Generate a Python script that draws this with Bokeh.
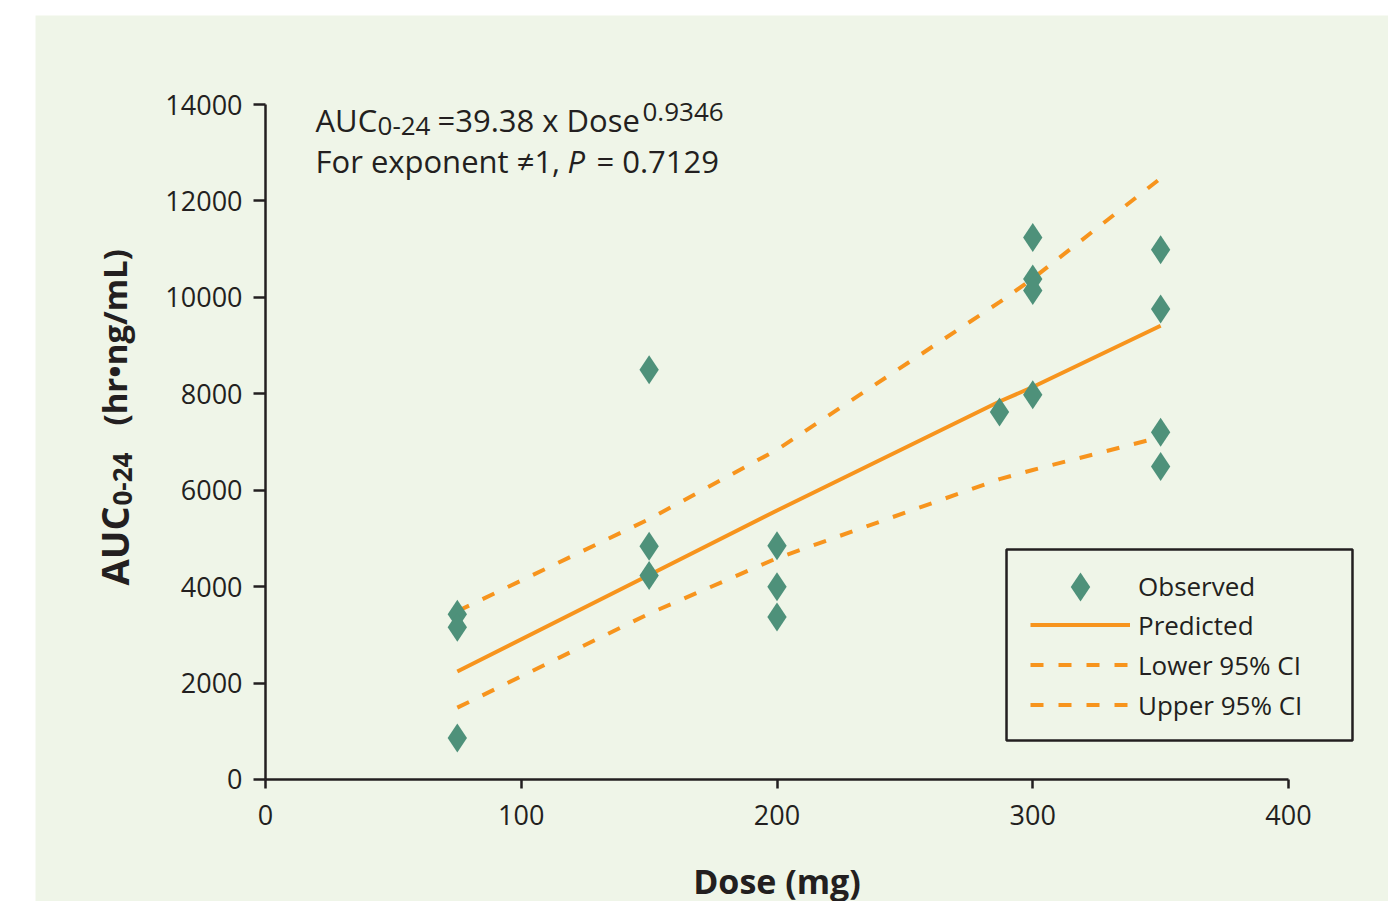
from math import pi
from bokeh.plotting import figure
from bokeh.models import Range1d, FixedTicker, Label, Legend, LegendItem, BoxAnnotation
from bokeh.embed import file_html
from bokeh.resources import INLINE

# ---- data ----
dose_obs = [75, 75, 75, 150, 150, 150, 200, 200, 200, 287, 300, 300, 300, 300, 350, 350, 350, 350]
auc_obs = [3430, 3160, 860, 8500, 4840, 4230, 4850, 4000, 3370, 7620, 11240, 10380, 10140, 7980, 10990, 9760, 7200, 6490]

dose_fit = [75, 150, 200, 287, 300, 350]
auc_pred = [2240, 4240, 5580, 7840, 8140, 9410]
auc_lower = [1490, 3440, 4590, 6230, 6420, 7100]
auc_upper = [3490, 5400, 6840, 9900, 10390, 12470]

x_ticks = [0, 100, 200, 300, 400]
y_ticks = [0, 2000, 4000, 6000, 8000, 10000, 12000, 14000]

legend_labels = ["Observed", "Predicted", "Lower 95% CI", "Upper 95% CI"]

# ---- styles ----
BG = "#eff5e8"
TEAL = "#4e917a"
ORANGE = "#f7941d"
INK = "#231f20"
FONT = "Open Sans"

# frame covers the whole canvas; axes are pinned at 0 with fixed_location
p = figure(width=1388, height=901,
           x_range=Range1d(-103.62, 439.10), y_range=Range1d(-2530.4, 16157.1),
           output_backend="svg", toolbar_location=None, title=None, min_border=0)
p.background_fill_color = "white"
p.border_fill_color = "white"
p.outline_line_color = None
p.grid.visible = False

# light green panel (white band at left/top as in the reference)
p.add_layout(BoxAnnotation(left=-89.93, top=15846, fill_color=BG, fill_alpha=1.0,
                           line_color=None, level="underlay"))

for ax, bnds in ((p.xaxis[0], (0, 400)), (p.yaxis[0], (0, 14000))):
    ax.fixed_location = 0
    ax.bounds = bnds
    ax.axis_line_width = 2.5
    ax.axis_line_color = INK
    ax.major_tick_line_width = 2.5
    ax.major_tick_line_color = INK
    ax.major_tick_in = 0
    ax.minor_tick_line_color = None
    ax.major_label_text_font = FONT
    ax.major_label_text_font_size = "27px"
    ax.major_label_text_color = INK
p.xaxis.major_tick_out = 9
p.yaxis.major_tick_out = 12
p.xaxis.ticker = FixedTicker(ticks=x_ticks)
p.yaxis.ticker = FixedTicker(ticks=y_ticks)
p.yaxis.major_label_standoff = 11
p.xaxis.major_label_standoff = 17

r_pred = p.line(dose_fit, auc_pred, line_color=ORANGE, line_width=4)
r_low = p.line(dose_fit, auc_lower, line_color=ORANGE, line_width=4, line_dash="13 15")
r_up = p.line(dose_fit, auc_upper, line_color=ORANGE, line_width=4, line_dash="13 15")
r_obs = p.scatter(dose_obs, auc_obs, marker="diamond", size=29, fill_color=TEAL, line_color=None)

common = dict(orientation="vertical", margin=0, padding=0, glyph_width=100, label_standoff=8,
              label_text_font=FONT, label_text_font_size="26px", label_text_color=INK,
              border_line_color=None, background_fill_alpha=0)
# marker row (taller glyph box so the legend diamond matches the plotted ones)
p.add_layout(Legend(items=[LegendItem(label=legend_labels[0], renderers=[r_obs])],
                    location=(1030, 278.5), glyph_height=73, label_height=30, **common))
# line rows
p.add_layout(Legend(items=[LegendItem(label=legend_labels[1], renderers=[r_pred]),
                           LegendItem(label=legend_labels[2], renderers=[r_low]),
                           LegendItem(label=legend_labels[3], renderers=[r_up])],
                    location=(1030, 178.5), glyph_height=31, label_height=31, spacing=4, **common))
# legend frame
p.add_layout(BoxAnnotation(left=289.74, right=425.02, top=4770, bottom=809,
                           fill_alpha=0, line_color=INK, line_alpha=1.0, line_width=2.5))


def lab(x, y, text, size, style="normal", angle=0.0, align="left"):
    p.add_layout(Label(x=x, y=y, text=text, text_font=FONT, text_font_size=f"{size}px",
                       text_font_style=style, text_color=INK, text_baseline="alphabetic",
                       text_align=align, angle=angle))


# equation annotation
lab(19.55, 13687, "AUC", 31)
lab(43.8, 13563, "0-24", 26)
lab(67.25, 13687, "=39.38 x Dose", 31)
lab(147.4, 13853, "0.9346", 26)
lab(19.55, 12818, "For exponent \u22601,", 31)
lab(118.1, 12818, "P", 31, style="italic")
lab(129.4, 12818, "= 0.7129", 31)

# y axis title (with subscript)
lab(-59.43, 4024, "AUC", 38, style="bold", angle=pi / 2)
lab(-55.9, 5683, "0-24", 26, style="bold", angle=pi / 2)
lab(-59.04, 7342, "(hr\u2022ng/mL)", 33, style="bold", angle=pi / 2)

# x axis title
lab(200, -2115, "Dose (mg)", 34, style="bold", align="center")

open("out.html", "w").write(file_html(p, INLINE))
